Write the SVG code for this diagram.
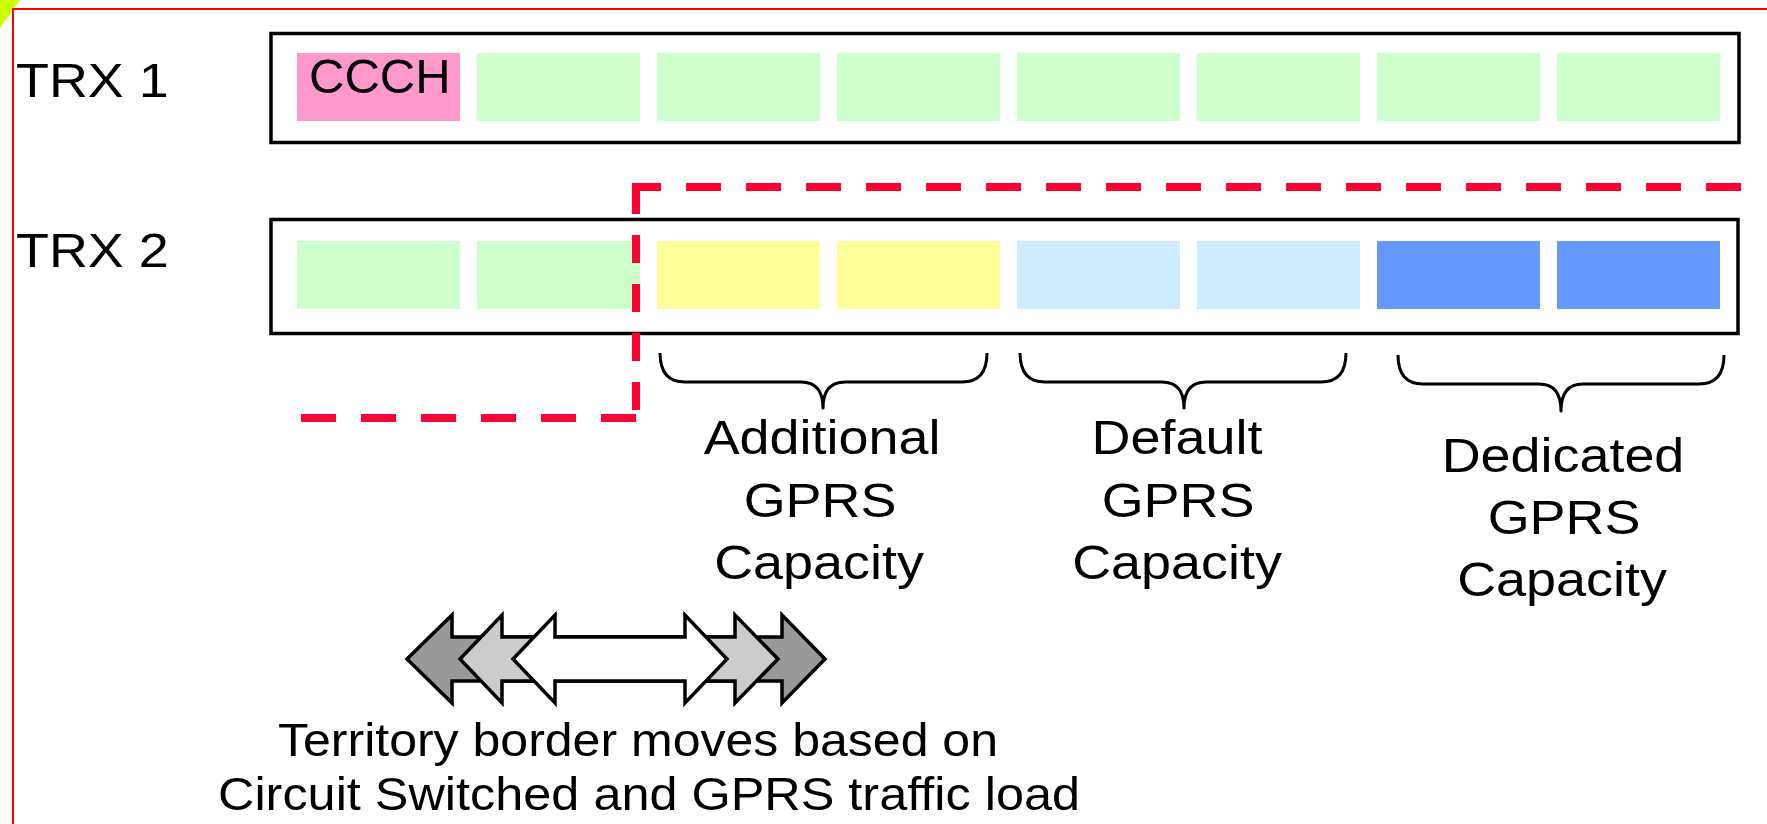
<svg xmlns="http://www.w3.org/2000/svg" width="1767" height="824" viewBox="0 0 1767 824">
  <style>
    .lbl { font-family: "Liberation Sans", Arial, sans-serif; font-size: 49px; fill: #000; }
    .foot { font-family: "Liberation Sans", Arial, sans-serif; font-size: 47px; fill: #000; text-anchor: middle; }
    .mid { text-anchor: middle; }
    .trx { fill: #fff; stroke: #000; stroke-width: 3.5; }
    .ccch { fill: #ff99cc; }
    .cs { fill: #ccffcc; }
    .add { fill: #ffff99; }
    .def { fill: #cdecff; }
    .ded { fill: #6699ff; }
    .brace { fill: none; stroke: #000; stroke-width: 3; stroke-linejoin: round; }
    .border { fill: none; stroke: #ff0033; stroke-width: 8; stroke-linecap: butt; }
    .arrow { stroke: #000; stroke-width: 3.5; stroke-linejoin: miter; }
  </style>

  <rect width="1767" height="824" fill="#fff"/>
  <!-- corner tab and page frame -->
  <polygon points="0,0 20,0 0,28" fill="#ccff00"/>
  <rect x="13" y="9" width="1800" height="900" fill="none" stroke="#ff0000" stroke-width="2"/>

  <!-- TRX 1 -->
  <g id="trx1">
    <text class="lbl" transform="translate(16 97) scale(1.1 1)">TRX 1</text>
    <rect class="trx" x="271" y="33.5" width="1468" height="109"/>
    <rect class="ccch" x="297" y="53" width="163" height="68"/>
    <text class="lbl" x="309" y="93">CCCH</text>
    <rect class="cs" x="477" y="53" width="163" height="68"/>
    <rect class="cs" x="657" y="53" width="163" height="68"/>
    <rect class="cs" x="837" y="53" width="163" height="68"/>
    <rect class="cs" x="1017" y="53" width="163" height="68"/>
    <rect class="cs" x="1197" y="53" width="163" height="68"/>
    <rect class="cs" x="1377" y="53" width="163" height="68"/>
    <rect class="cs" x="1557" y="53" width="163" height="68"/>
  </g>

  <!-- TRX 2 -->
  <g id="trx2">
    <text class="lbl" transform="translate(16 267) scale(1.1 1)">TRX 2</text>
    <rect class="trx" x="271" y="219.5" width="1467" height="114"/>
    <rect class="cs" x="297" y="241" width="163" height="68"/>
    <rect class="cs" x="477" y="241" width="163" height="68"/>
    <rect class="add" x="657" y="241" width="163" height="68"/>
    <rect class="add" x="837" y="241" width="163" height="68"/>
    <rect class="def" x="1017" y="241" width="163" height="68"/>
    <rect class="def" x="1197" y="241" width="163" height="68"/>
    <rect class="ded" x="1377" y="241" width="163" height="68"/>
    <rect class="ded" x="1557" y="241" width="163" height="68"/>
  </g>

  <!-- territory border between circuit switched and GPRS -->
  <g id="territory-border">
    <line class="border" x1="301" y1="418" x2="637" y2="418" stroke-dasharray="35 25"/>
    <line class="border" x1="636" y1="410" x2="636" y2="186" stroke-dasharray="28 21"/>
    <line class="border" x1="632" y1="187" x2="1745" y2="187" stroke-dasharray="35 25" stroke-dashoffset="6"/>
  </g>

  <!-- capacity groups -->
  <g id="additional">
    <path class="brace" d="M660 353 C660 372 668 382 685 382 L801 382 C815 382 823 390 823 408 C823 390 831 382 845 382 L962 382 C979 382 987 372 987 353"/>
    <text class="lbl mid" transform="translate(822 454) scale(1.1 1)">Additional</text>
    <text class="lbl mid" transform="translate(820 517) scale(1.1 1)">GPRS</text>
    <text class="lbl mid" transform="translate(819 579) scale(1.1 1)">Capacity</text>
  </g>
  <g id="default">
    <path class="brace" d="M1020 353 C1020 372 1028 382 1045 382 L1162 382 C1176 382 1184 390 1184 408 C1184 390 1192 382 1206 382 L1321 382 C1338 382 1346 372 1346 353"/>
    <text class="lbl mid" transform="translate(1177 454) scale(1.1 1)">Default</text>
    <text class="lbl mid" transform="translate(1178 517) scale(1.1 1)">GPRS</text>
    <text class="lbl mid" transform="translate(1177 579) scale(1.1 1)">Capacity</text>
  </g>
  <g id="dedicated">
    <path class="brace" d="M1398 355 C1398 374 1406 384 1423 384 L1539 384 C1553 384 1561 392 1561 411 C1561 392 1569 384 1583 384 L1699 384 C1716 384 1724 374 1724 355"/>
    <text class="lbl mid" transform="translate(1563 472) scale(1.1 1)">Dedicated</text>
    <text class="lbl mid" transform="translate(1564 534) scale(1.1 1)">GPRS</text>
    <text class="lbl mid" transform="translate(1562 596) scale(1.1 1)">Capacity</text>
  </g>

  <!-- moving border arrows -->
  <g id="moves">
    <polygon class="arrow" fill="#999999" points="407,659 452,615 452,637 782,637 782,615 825,659 782,703 782,681 452,681 452,703"/>
    <polygon class="arrow" fill="#cccccc" points="460,659 502,615 502,637 735,637 735,615 778,659 735,703 735,681 502,681 502,703"/>
    <polygon class="arrow" fill="#ffffff" points="513,659 555,615 555,637 685,637 685,615 727,659 685,703 685,681 555,681 555,703"/>
    <text class="foot" x="638" y="756" textLength="720" lengthAdjust="spacingAndGlyphs">Territory border moves based on</text>
    <text class="foot" x="649" y="810" textLength="862" lengthAdjust="spacingAndGlyphs">Circuit Switched and GPRS traffic load</text>
  </g>
</svg>
